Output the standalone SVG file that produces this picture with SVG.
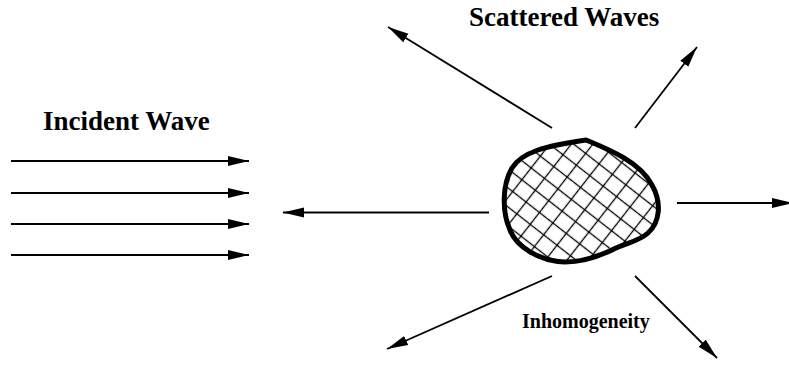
<svg xmlns="http://www.w3.org/2000/svg" width="789" height="378" viewBox="0 0 789 378">
<style>
.lbl{font-family:"Liberation Serif","Times New Roman",serif;font-weight:bold;fill:#000}
.arr{stroke:#000;stroke-width:1.8;fill:none;marker-end:url(#ah)}
.hatch{stroke:#000;stroke-width:1.3}
</style>
<defs>
<marker id="ah" markerUnits="userSpaceOnUse" markerWidth="22" markerHeight="12" refX="21" refY="5.5" orient="auto">
<path d="M0,0.5 L21,5.5 L0,10.5 Z" fill="#000"/>
</marker>
<pattern id="grid" patternUnits="userSpaceOnUse" width="17" height="15" patternTransform="translate(560,200) rotate(38)">
<line class="hatch" x1="0" y1="7.5" x2="17" y2="7.5"/>
<line class="hatch" x1="8.5" y1="0" x2="8.5" y2="15"/>
</pattern>
</defs>
<rect width="789" height="378" fill="#fff"/>
<g id="connectors">
<line class="arr" x1="11" y1="161" x2="249" y2="161"/>
<line class="arr" x1="11" y1="193" x2="249" y2="193"/>
<line class="arr" x1="11" y1="224" x2="249" y2="224"/>
<line class="arr" x1="11" y1="255" x2="249" y2="255"/>
<line class="arr" x1="489" y1="212.5" x2="283" y2="212.5"/>
<line class="arr" x1="677" y1="203" x2="793" y2="203"/>
<line class="arr" x1="552" y1="128" x2="388" y2="27"/>
<line class="arr" x1="635" y1="128" x2="697" y2="47"/>
<line class="arr" x1="552" y1="276" x2="387" y2="349"/>
<line class="arr" x1="635" y1="276" x2="717" y2="358"/>
</g>
<g id="inhomogeneity">
<path d="M586,140 C610,150 640,162 652,185 C662,203 660,222 648,233 C638,242 625,243 612,250 C595,258 580,262 565,262 C538,261 516,246 510,230 C502,212 502,185 512,168 C522,152 545,146 586,140 Z" fill="url(#grid)" stroke="#000" stroke-width="5" stroke-linejoin="round"/>
<text class="lbl" x="522" y="328" font-size="20">Inhomogeneity</text>
</g>
<g id="incident-label">
<text class="lbl" x="43" y="130" font-size="27">Incident Wave</text>
</g>
<g id="scattered-label">
<text class="lbl" x="469" y="26" font-size="27">Scattered Waves</text>
</g>
</svg>
